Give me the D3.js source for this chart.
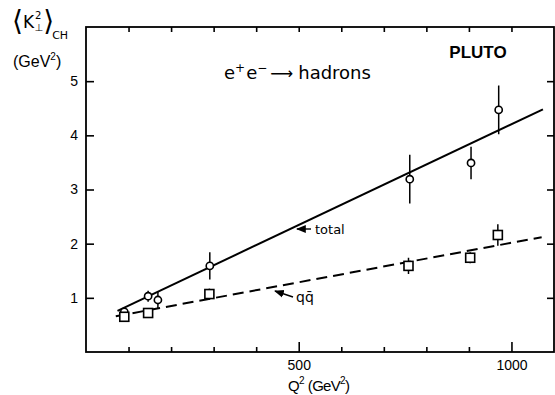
<!DOCTYPE html>
<html>
<head>
<meta charset="utf-8">
<script src="https://cdn.jsdelivr.net/npm/d3@7"></script>
<style>
  body { margin: 0; background: #fff; }
  text { font-family: "Liberation Sans", Arial, sans-serif; fill: #000; }
</style>
</head>
<body>
<svg id="chart" width="555" height="395"></svg>
<script>
// measured <K_perp^2> for charged particles vs Q^2 (GeV^2)
const totalQ2 = [90, 146, 169, 291, 761, 905, 970];
const totalK = [0.74, 1.03, 0.96, 1.59, 3.19, 3.49, 4.47];
const totalErr = [0.05, 0.1, 0.15, 0.25, 0.45, 0.3, 0.45];

// q-qbar part
const qqQ2 = [90, 146, 290, 758, 903, 968];
const qqK = [0.65, 0.72, 1.07, 1.59, 1.74, 2.16];
const qqErr = [0.05, 0.05, 0.1, 0.15, 0.1, 0.2];

// straight line fits (end points)
const totalFit = [[74, 0.76], [1074, 4.48]];
const qqFit = [[70, 0.66], [1071, 2.12]];

// axis ticks
const xTicks = [100, 200, 300, 400, 500, 600, 700, 800, 900, 1000];
const xLabels = [500, 1000];
const yTicks = [1, 2, 3, 4, 5];

const svg = d3.select("#chart");

const x = d3.scaleLinear().domain([0, 1100]).range([86, 554]);
const y = d3.scaleLinear().domain([0, 6]).range([352, 27]);

// frame
svg.append("rect")
    .attr("x", x(0)).attr("y", y(6))
    .attr("width", x(1100) - x(0)).attr("height", y(0) - y(6))
    .attr("fill", "none").attr("stroke", "#000").attr("stroke-width", 1.8);

// bottom axis, ticks pointing inward
const bottom = svg.append("g")
    .attr("transform", `translate(0,${y(0)})`)
    .call(d3.axisBottom(x).tickValues(xTicks).tickSize(-5).tickPadding(8)
        .tickFormat(d => xLabels.includes(d) ? d : ""));
bottom.selectAll(".tick line").filter(d => xLabels.includes(d)).attr("y2", -10);

// top axis
svg.append("g")
    .attr("transform", `translate(0,${y(6)})`)
    .call(d3.axisTop(x).tickValues(xTicks).tickSize(-5).tickFormat(""));

// left axis
svg.append("g")
    .attr("transform", `translate(${x(0)},0)`)
    .call(d3.axisLeft(y).tickValues(yTicks).tickSize(-8).tickPadding(8).tickFormat(d3.format("d")));

// right axis
svg.append("g")
    .attr("transform", `translate(${x(1100)},0)`)
    .call(d3.axisRight(y).tickValues(yTicks).tickSize(-7).tickFormat(""));

svg.selectAll(".domain").remove();
svg.selectAll(".tick line").attr("stroke", "#000").attr("stroke-width", 1.6);
svg.selectAll(".tick text").style("font-size", "14px").style("font-family", "Liberation Sans, Arial, sans-serif");

// fit lines
const line = d3.line().x(d => x(d[0])).y(d => y(d[1]));
svg.append("path").datum(totalFit)
    .attr("d", line).attr("fill", "none")
    .attr("stroke", "#000").attr("stroke-width", 2);
svg.append("path").datum(qqFit)
    .attr("d", line).attr("fill", "none")
    .attr("stroke", "#000").attr("stroke-width", 2)
    .attr("stroke-dasharray", "11,6");

// error bars
const totalPts = totalQ2.map((q, i) => ({ q: q, k: totalK[i], e: totalErr[i] }));
const qqPts = qqQ2.map((q, i) => ({ q: q, k: qqK[i], e: qqErr[i] }));

svg.selectAll(".errT").data(totalPts).enter().append("line")
    .attr("x1", d => x(d.q)).attr("x2", d => x(d.q))
    .attr("y1", d => y(d.k - d.e)).attr("y2", d => y(d.k + d.e))
    .attr("stroke", "#000").attr("stroke-width", 1.5);
svg.selectAll(".errQ").data(qqPts).enter().append("line")
    .attr("x1", d => x(d.q)).attr("x2", d => x(d.q))
    .attr("y1", d => y(d.k - d.e)).attr("y2", d => y(d.k + d.e))
    .attr("stroke", "#000").attr("stroke-width", 1.5);

// markers: circles = total, squares = q qbar
svg.selectAll(".ptT").data(totalPts).enter().append("circle")
    .attr("cx", d => x(d.q)).attr("cy", d => y(d.k)).attr("r", 3.6)
    .attr("fill", "#fff").attr("stroke", "#000").attr("stroke-width", 1.6);
svg.selectAll(".ptQ").data(qqPts).enter().append("rect")
    .attr("x", d => x(d.q) - 4.5).attr("y", d => y(d.k) - 4.5)
    .attr("width", 9).attr("height", 9)
    .attr("fill", "#fff").attr("stroke", "#000").attr("stroke-width", 1.6);

// arrows for line labels
svg.append("defs").append("marker")
    .attr("id", "head").attr("viewBox", "0 0 10 10")
    .attr("refX", 9).attr("refY", 5)
    .attr("markerWidth", 7).attr("markerHeight", 7)
    .attr("orient", "auto")
  .append("path").attr("d", "M0,1 L10,5 L0,9 Z").attr("fill", "#000");

svg.append("line")
    .attr("x1", 311).attr("y1", 229).attr("x2", 297).attr("y2", 229)
    .attr("stroke", "#000").attr("stroke-width", 1.4).attr("marker-end", "url(#head)");
svg.append("text").attr("x", 315).attr("y", 234)
    .style("font-family", "DejaVu Sans").style("font-size", "13px").text("total");

svg.append("line")
    .attr("x1", 293).attr("y1", 297).attr("x2", 275).attr("y2", 291)
    .attr("stroke", "#000").attr("stroke-width", 1.4).attr("marker-end", "url(#head)");
svg.append("text").attr("x", 296).attr("y", 302)
    .style("font-family", "DejaVu Sans").style("font-size", "14px").text("qq\u0304");

// y axis title
const yt = svg.append("text").attr("x", 12).attr("y", 30).style("font-family", "DejaVu Sans");
yt.append("tspan").style("font-size", "28px").text("\u27E8");
yt.append("tspan").style("font-size", "17px").attr("dy", -2).text("K");
yt.append("tspan").style("font-size", "10px").attr("dx", 1).attr("dy", -9).text("2");
yt.append("tspan").style("font-size", "10px")
    .attr("dx", -7).attr("dy", 12).text("\u22A5");
yt.append("tspan").style("font-size", "28px")
    .attr("dx", 0).attr("dy", -1).text("\u27E9");
yt.append("tspan").style("font-size", "11px").attr("dx", -2).attr("dy", 9).text("CH");

const yu = svg.append("text").attr("x", 13).attr("y", 67).style("font-size", "16px");
yu.append("tspan").text("(GeV");
yu.append("tspan").style("font-size", "10px").attr("dy", -7).text("2");
yu.append("tspan").attr("dy", 7).text(")");

// x axis title
const xt = svg.append("text").attr("x", 288).attr("y", 391)
    .style("font-size", "15px").style("letter-spacing", "-0.7px");
xt.append("tspan").text("Q");
xt.append("tspan").style("font-size", "10px").attr("dy", -7).text("2");
xt.append("tspan").attr("dy", 7).attr("dx", 4).text("(GeV");
xt.append("tspan").style("font-size", "10px").attr("dy", -7).text("2");
xt.append("tspan").attr("dy", 7).text(")");

// process and experiment
const pr = svg.append("text").attr("x", 224).attr("y", 79)
    .style("font-family", "DejaVu Sans").style("font-size", "18px");
pr.append("tspan").text("e");
pr.append("tspan").style("font-size", "12px").attr("dy", -7).text("+");
pr.append("tspan").attr("dy", 7).attr("dx", 1).text("e");
pr.append("tspan").style("font-size", "12px").attr("dy", -7).text("\u2212");
pr.append("tspan").attr("dy", 7).attr("dx", 3).style("font-size", "16px").text("\u27F6");
pr.append("tspan").attr("dx", 5).text("hadrons");

svg.append("text").attr("x", 478).attr("y", 58)
    .attr("text-anchor", "middle")
    .style("font-size", "17px").style("font-weight", "bold").text("PLUTO");
</script>
</body>
</html>
